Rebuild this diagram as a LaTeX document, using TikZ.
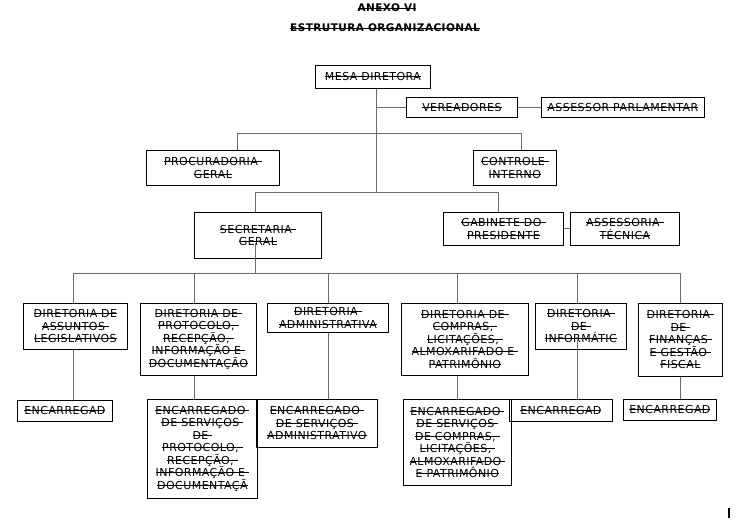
\documentclass[tikz,border=0pt]{standalone}
\usepackage{fontspec}
\setmainfont{DejaVu Sans}[LetterSpace=4]
\usepackage{tikz}
\usetikzlibrary{calc}
\definecolor{linec}{HTML}{6A6A6A}
\newsavebox{\rsbox}
\newcommand{\rs}[1]{\sbox{\rsbox}{#1}\rlap{\usebox{\rsbox}}\rule[0.34em]{\wd\rsbox}{0.7pt}}
\tikzset{
  box/.style 2 args={draw=black,line width=0.8pt,anchor=north west,align=center,inner sep=0pt,
    minimum width=#1pt,minimum height=#2pt,font=\fontsize{11}{12.5}\selectfont},
  ln/.style={draw=linec,line width=1pt},
  ttl/.style={font=\fontsize{10.5}{12.5}\selectfont\bfseries}
}
\begin{document}
\begin{tikzpicture}[x=1pt,y=-1pt]
\useasboundingbox (0,0) rectangle (742,522);
\node[ttl] (t1) at (387,8) {\rs{ANEXO VI}};
\node[ttl] (t2) at (385,28) {\rs{ESTRUTURA ORGANIZACIONAL}};
\node[box={115}{23}] (mesa) at (315,65) {\rs{MESA DIRETORA}};
\node[box={111}{20}] (ver) at (406,97) {\rs{VEREADORES}};
\node[box={163}{20}] (assp) at (541,97) {\rs{ASSESSOR PARLAMENTAR}};
\node[box={133}{35}] (proc) at (146,150) {\rs{PROCURADORIA\ }\\\rs{GERAL}};
\node[box={83}{35}] (ctrl) at (473,150) {\rs{CONTROLE\ }\\\rs{INTERNO}};
\node[box={127}{46}] (sec) at (194,212) {\rs{SECRETARIA\ }\\\rs{GERAL}};
\node[box={120}{33}] (gab) at (443,212) {\rs{GABINETE DO\ }\\\rs{PRESIDENTE}};
\node[box={109}{33}] (asst) at (570,212) {\rs{ASSESSORIA\ }\\\rs{TÉCNICA}};
\node[box={104}{46}] (d1) at (23,303) {\rs{DIRETORIA DE}\\\rs{ASSUNTOS\ }\\\rs{LEGISLATIVOS}};
\node[box={116}{72}] (d2) at (140,303) {\rs{DIRETORIA DE\ }\\\rs{PROTOCOLO,\ }\\\rs{RECEPÇÃO,\ }\\\rs{INFORMAÇÃO E\ }\\\rs{DOCUMENTAÇÃO}};
\node[box={121}{29}] (d3) at (267,303) {\rs{DIRETORIA\ }\\\rs{ADMINISTRATIVA}};
\node[box={127}{72}] (d4) at (401,303) {\rs{DIRETORIA DE\ }\\\rs{COMPRAS,\ }\\\rs{LICITAÇÕES,\ }\\\rs{ALMOXARIFADO E\ }\\\rs{PATRIMÔNIO}};
\node[box={91}{46}] (d5) at (535,303) {\rs{DIRETORIA\ }\\\rs{DE\ }\\\rs{INFORMÁTIC}};
\node[box={84}{73}] (d6) at (638,303) {\rs{DIRETORIA\ }\\\rs{DE\ }\\\rs{FINANÇAS\ }\\\rs{E GESTÃO\ }\\\rs{FISCAL}};
\node[box={95}{21}] (e1) at (17,400) {\rs{ENCARREGAD}};
\node[box={110}{99}] (e2) at (147,399) {\rs{ENCARREGADO\ }\\\rs{DE SERVIÇOS\ }\\\rs{DE\ }\\\rs{PROTOCOLO,\ }\\\rs{RECEPÇÃO,\ }\\\rs{INFORMAÇÃO E\ }\\\rs{DOCUMENTAÇÃ}};
\node[box={121}{48}] (e3) at (256,399) {\rs{ENCARREGADO\ }\\\rs{DE SERVIÇOS\ }\\\rs{ADMINISTRATIVO}};
\node[box={108}{86}] (e4) at (403,399) {\rs{ENCARREGADO\ }\\\rs{DE SERVIÇOS\ }\\\rs{DE COMPRAS,\ }\\\rs{LICITAÇÕES,\ }\\\rs{ALMOXARIFADO\ }\\\rs{E PATRIMÔNIO}};
\node[box={103}{22}] (e5) at (509,399) {\rs{ENCARREGAD}};
\node[box={93}{21}] (e6) at (623,399) {\rs{ENCARREGAD}};
\coordinate (v0) at (376,133);
\coordinate (v1) at (376,192);
\coordinate (p1) at (237,133);
\coordinate (c1) at (521,133);
\coordinate (s1) at (255,192);
\coordinate (g1) at (498,192);
\coordinate (s2) at (255,243);
\coordinate (i5) at (577,340);
\draw[ln] (mesa.south -| v0) -- (v1);
\draw[ln] (ver.west -| v0) -- (ver.west);
\draw[ln] (ver.east) -- (assp.west);
\draw[ln] (proc.north -| p1) -- (p1) -- (c1) -- (c1 |- ctrl.north);
\draw[ln] (sec.north -| s1) -- (s1) -- (g1) -- (g1 |- gab.north);
\draw[ln] (gab.east) -- (asst.west);
\foreach \n/\x in {1/73,2/194,3/328,4/457,5/577,6/680}{
  \coordinate (q\n) at (\x,273);
  \draw[ln] (q\n) -- (q\n |- d\n.north);
}
\draw[ln] (q1) -- (q6);
\draw[ln] (s2) -- (s2 |- q1);
\foreach \n in {1,2,3,4,6}{\draw[ln] (d\n.south -| q\n) -- (e\n.north -| q\n);}
\draw[ln] (i5) -- (i5 |- e5.north);
\draw[line width=2pt] (729,508) -- (729,518);
\end{tikzpicture}
\end{document}
